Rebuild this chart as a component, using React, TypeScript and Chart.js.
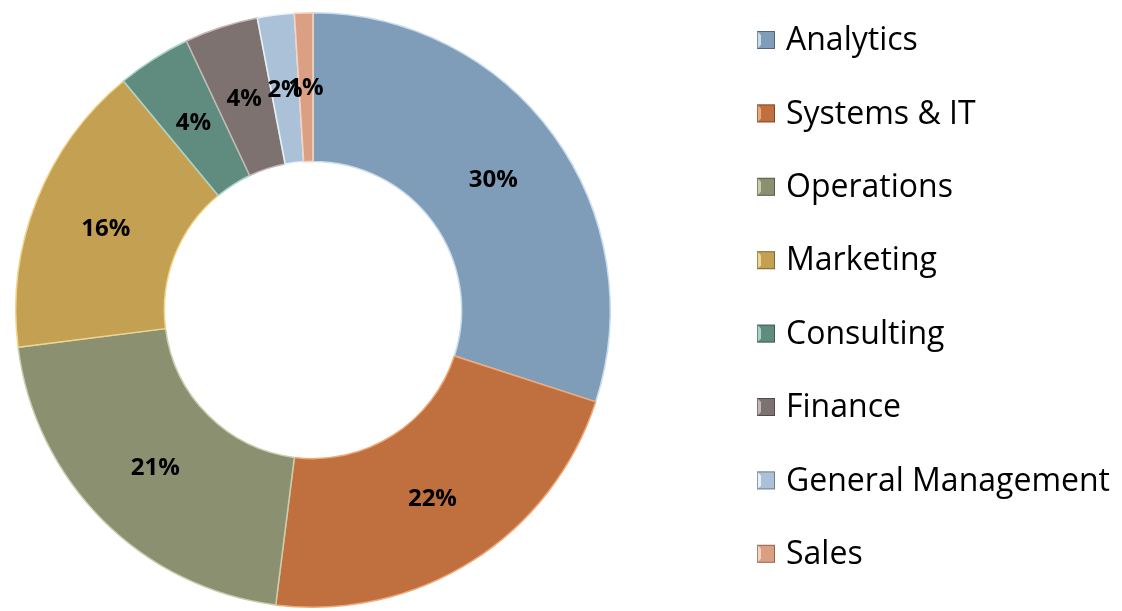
import React, { useEffect, useRef } from "react";
import { Chart, registerables } from "chart.js";

Chart.register(...registerables);

const categories = [
  "Analytics",
  "Systems & IT",
  "Operations",
  "Marketing",
  "Consulting",
  "Finance",
  "General Management",
  "Sales",
];
const shares = [30, 22, 21, 16, 4, 4, 2, 1];
const percentLabels = ["30%", "22%", "21%", "16%", "4%", "4%", "2%", "1%"];
const colors = [
  "#7f9db9",
  "#c0703f",
  "#8b9071",
  "#c4a052",
  "#5f8c7f",
  "#7e7270",
  "#aac1d7",
  "#dba083",
];
const edgeColors = [
  "#c9dcec",
  "#f0a878",
  "#c9cfae",
  "#f0d68e",
  "#a9d3c6",
  "#c4b8b6",
  "#e6f2fb",
  "#f6d2c0",
];

const FONT = "'Open Sans', Lato, 'DejaVu Sans', sans-serif";

const labelPlugin = {
  id: "percentLabels",
  afterDatasetsDraw(chart: any) {
    const ctx = chart.ctx;
    const meta = chart.getDatasetMeta(0);
    ctx.save();
    ctx.fillStyle = "#000";
    ctx.font = `bold 24px ${FONT}`;
    ctx.textAlign = "center";
    ctx.textBaseline = "middle";
    meta.data.forEach((arc: any, i: number) => {
      const p = arc.tooltipPosition();
      ctx.fillText(percentLabels[i], p.x, p.y + 1);
    });
    ctx.restore();
  },
};

const legendPlugin = {
  id: "sideLegend",
  afterDraw(chart: any) {
    const ctx = chart.ctx;
    ctx.save();
    const x0 = 757;
    const y0 = 40;
    const step = 73.4;
    const size = 18;
    ctx.font = `32px ${FONT}`;
    ctx.textBaseline = "middle";
    ctx.textAlign = "left";
    categories.forEach((name, i) => {
      const cy = y0 + i * step;
      const top = cy - size / 2;
      ctx.fillStyle = colors[i];
      ctx.fillRect(x0, top, size, size);
      ctx.fillStyle = edgeColors[i];
      ctx.beginPath();
      ctx.moveTo(x0, top);
      ctx.lineTo(x0 + 4, top + 4);
      ctx.lineTo(x0 + 4, top + size - 4);
      ctx.lineTo(x0, top + size);
      ctx.closePath();
      ctx.fill();
      ctx.strokeStyle = "rgba(0,0,0,0.35)";
      ctx.lineWidth = 1;
      ctx.strokeRect(x0 + 0.5, top + 0.5, size - 1, size - 1);
      ctx.fillStyle = "#000";
      ctx.fillText(name, 786, cy + 1);
    });
    ctx.restore();
  },
};

export default function App() {
  const canvasRef = useRef<HTMLCanvasElement | null>(null);

  useEffect(() => {
    if (!canvasRef.current) return;
    const chart = new Chart(canvasRef.current, {
      type: "doughnut",
      data: {
        labels: categories,
        datasets: [
          {
            data: shares,
            backgroundColor: colors,
            borderColor: edgeColors,
            borderWidth: 1.5,
          },
        ],
      },
      options: {
        responsive: false,
        animation: false,
        cutout: "50%",
        layout: {
          padding: { left: 15, right: 1122 - 611, top: 12, bottom: 3 },
        },
        plugins: {
          legend: { display: false },
          tooltip: { enabled: false },
        },
      },
      plugins: [labelPlugin, legendPlugin],
    });
    return () => chart.destroy();
  }, []);

  return (
    <div style={{ position: "fixed", left: 0, top: 0, width: 1122, height: 611, background: "#fff" }}>
      <canvas ref={canvasRef} width={1122} height={611} />
    </div>
  );
}
